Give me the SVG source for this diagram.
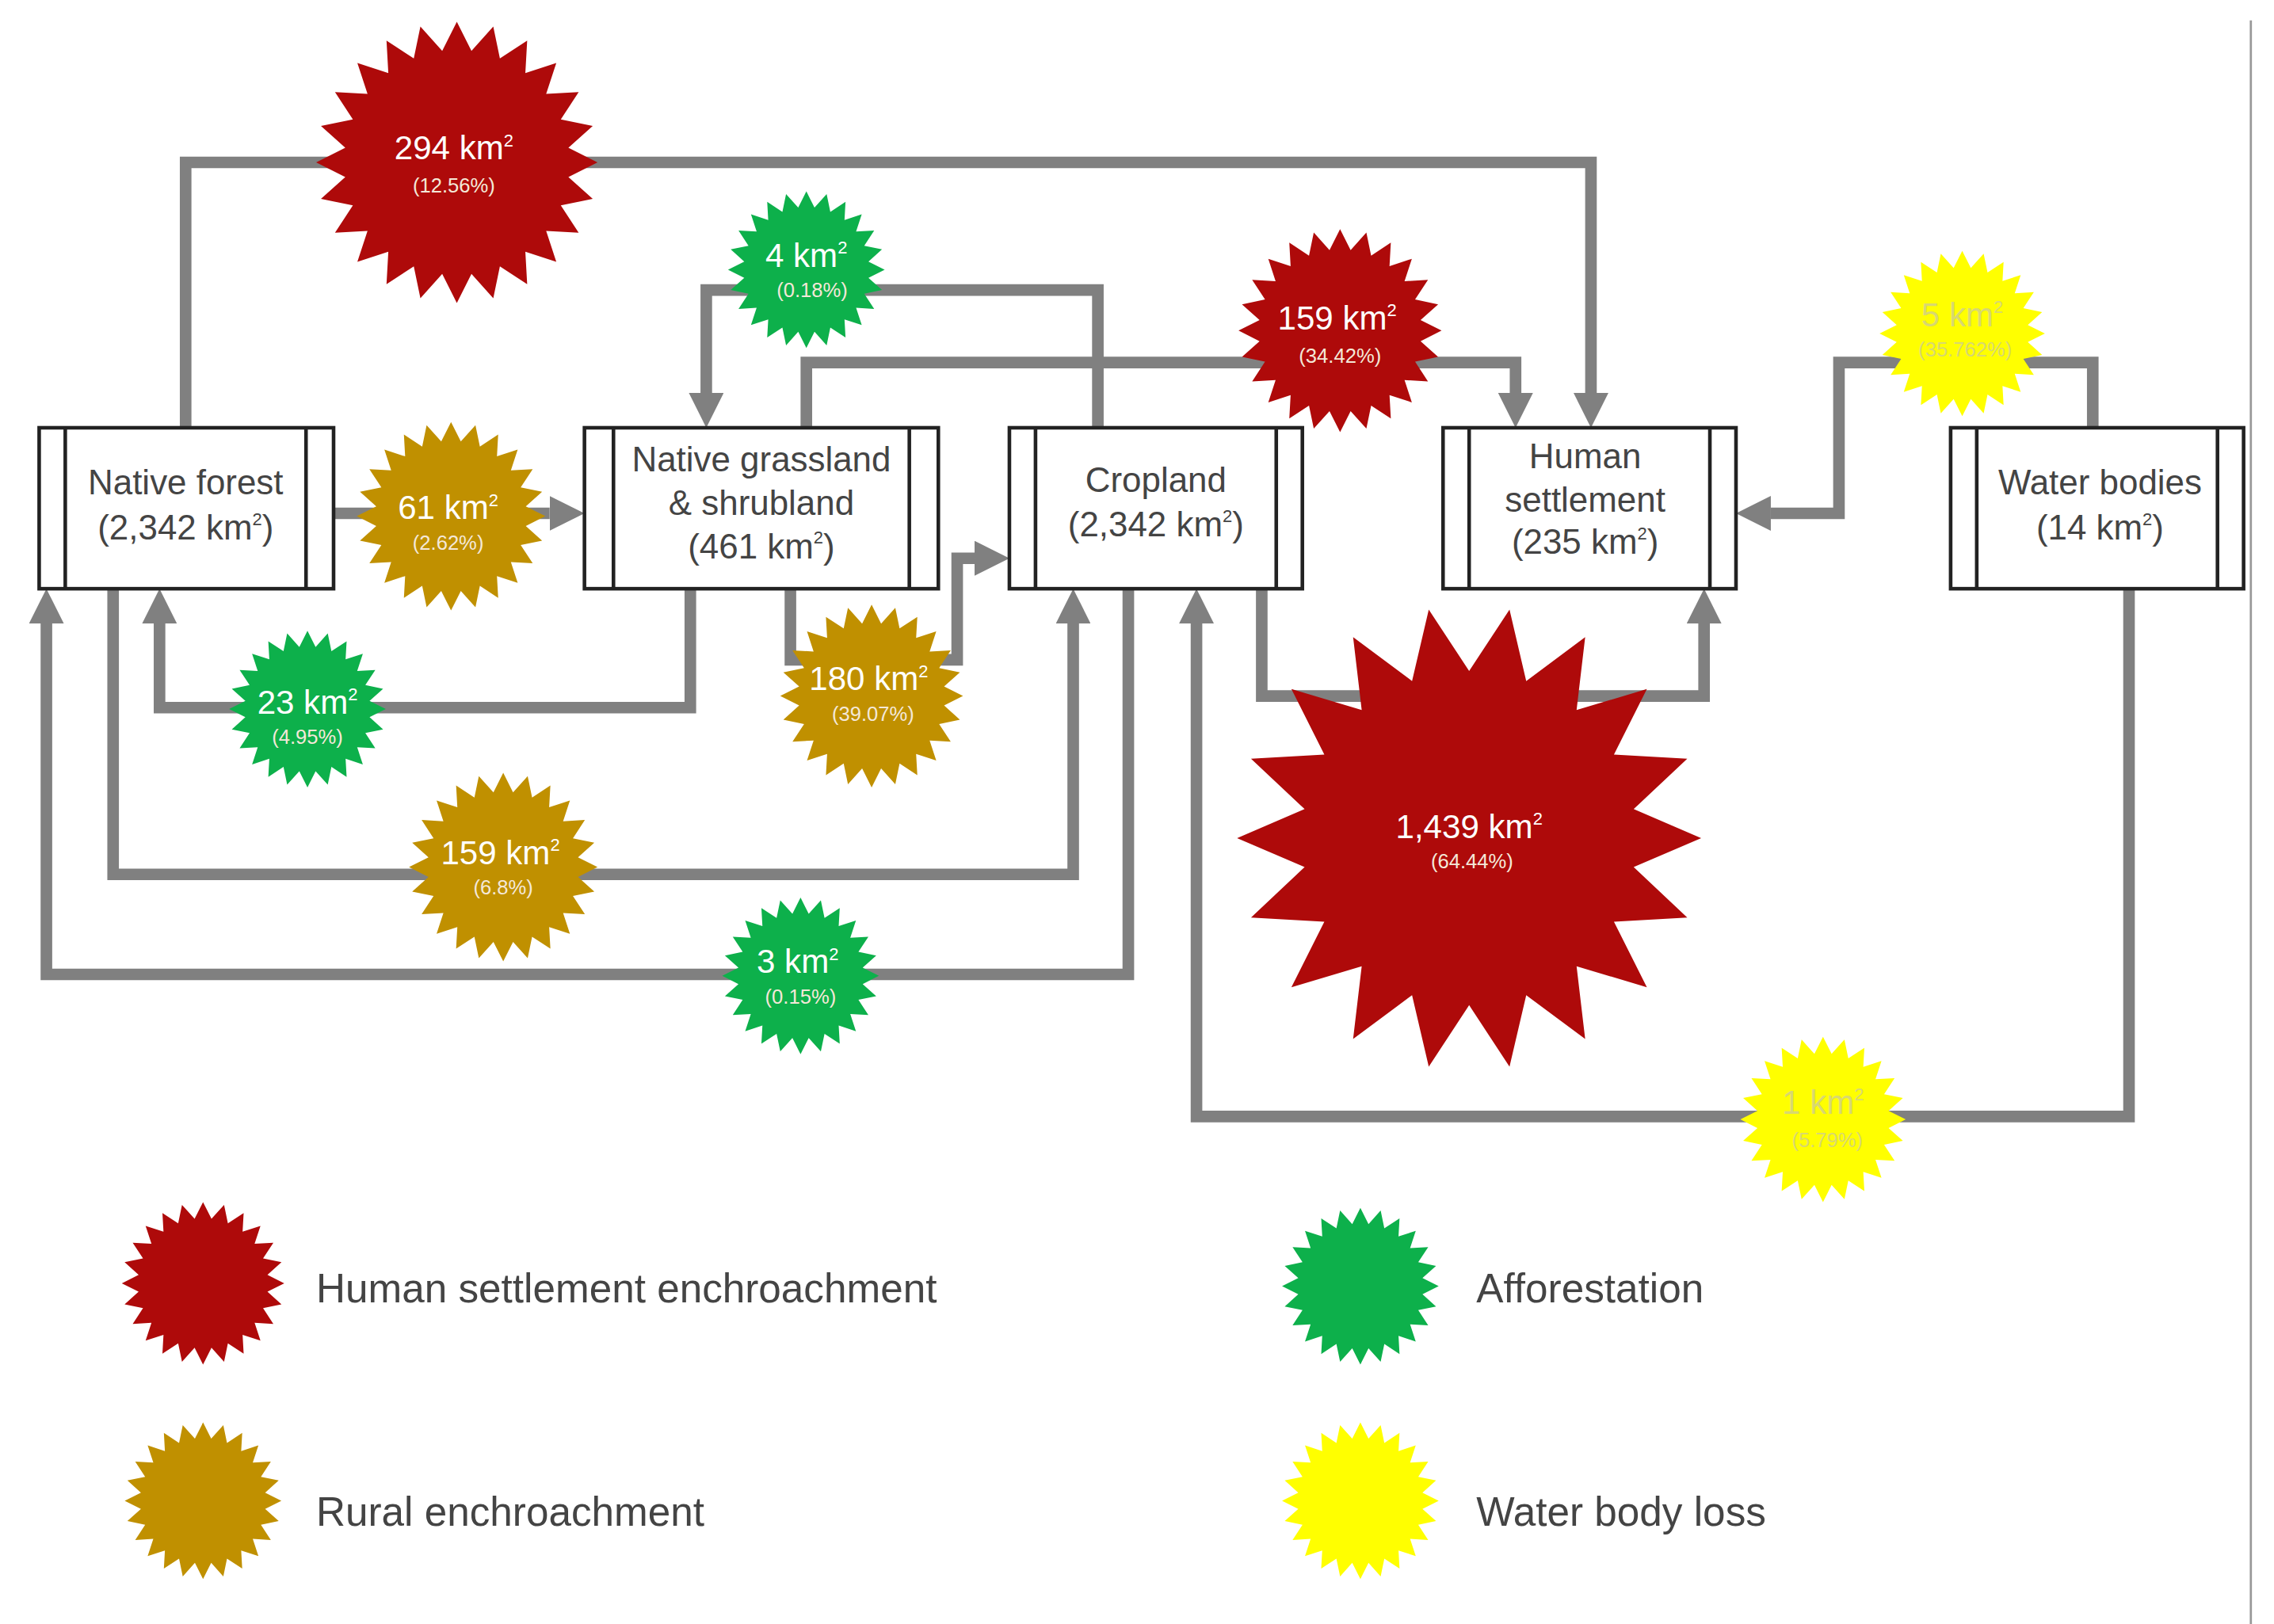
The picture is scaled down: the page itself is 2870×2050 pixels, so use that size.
<svg xmlns="http://www.w3.org/2000/svg" xmlns:xlink="http://www.w3.org/1999/xlink" width="2870" height="2050" viewBox="0 0 2870 2050">
<style>
.box{fill:#fff;stroke:#222;stroke-width:2.5}
.in{stroke:#222;stroke-width:2.5}
.bt{font-family:"Liberation Sans",Arial,sans-serif;font-size:24px;fill:#444;text-anchor:middle}
.con{fill:none;stroke:#808080;stroke-width:8}
.red{fill:#ae0a0a}.gold{fill:#c09000}.green{fill:#0db04b}.yel{fill:#ffff00}
.v{font-family:"Liberation Sans",Arial,sans-serif;font-size:23px;fill:#fff;text-anchor:middle}
.p{font-family:"Liberation Sans",Arial,sans-serif;font-size:14px;fill:#f4e8d8;text-anchor:middle}
.vy{fill:#d8d870}
.lg{font-family:"Liberation Sans",Arial,sans-serif;font-size:28px;fill:#444}
</style>
<defs>
<marker id="ah" markerUnits="strokeWidth" markerWidth="3" markerHeight="3" refX="0" refY="5" viewBox="0 0 10 10" orient="auto"><path d="M0,0 L10,5 L0,10 z" fill="#808080"/></marker>
<path id="s24" d="M100,0 79.3,10.4 96.6,25.9 73.9,30.6 86.6,50 63.5,48.7 70.7,70.7 48.7,63.5 50,86.6 30.6,73.9 25.9,96.6 10.4,79.3 0,100 -10.4,79.3 -25.9,96.6 -30.6,73.9 -50,86.6 -48.7,63.5 -70.7,70.7 -63.5,48.7 -86.6,50 -73.9,30.6 -96.6,25.9 -79.3,10.4 -100,0 -79.3,-10.4 -96.6,-25.9 -73.9,-30.6 -86.6,-50 -63.5,-48.7 -70.7,-70.7 -48.7,-63.5 -50,-86.6 -30.6,-73.9 -25.9,-96.6 -10.4,-79.3 0,-100 10.4,-79.3 25.9,-96.6 30.6,-73.9 50,-86.6 48.7,-63.5 70.7,-70.7 63.5,-48.7 86.6,-50 73.9,-30.6 96.6,-25.9 79.3,-10.4Z"/>
<path id="s18" d="M100,0 70.9,12.5 94,34.2 62.4,36 76.6,64.3 46.3,55.2 50,86.6 24.6,67.7 17.4,98.5 0,72 -17.4,98.5 -24.6,67.7 -50,86.6 -46.3,55.2 -76.6,64.3 -62.4,36 -94,34.2 -70.9,12.5 -100,0 -70.9,-12.5 -94,-34.2 -62.4,-36 -76.6,-64.3 -46.3,-55.2 -50,-86.6 -24.6,-67.7 -17.4,-98.5 0,-72 17.4,-98.5 24.6,-67.7 50,-86.6 46.3,-55.2 76.6,-64.3 62.4,-36 94,-34.2 70.9,-12.5Z"/>
</defs>
<rect width="2870" height="2050" fill="#fff"/>
<g transform="scale(1.8304)">
<line x1="1552" y1="14" x2="1552" y2="1120" stroke="#999" stroke-width="1.5"/>
<g id="connectors">
<path class="con" marker-end="url(#ah)" d="M128,295 V112 H1097 V271"/>
<path class="con" marker-end="url(#ah)" d="M230,354 H379"/>
<path class="con" marker-end="url(#ah)" d="M476,406 V488 H110 V430"/>
<path class="con" marker-end="url(#ah)" d="M757,295 V200 H487 V271"/>
<path class="con" marker-end="url(#ah)" d="M556,295 V250 H1045 V271"/>
<path class="con" marker-end="url(#ah)" d="M545,406 V455 H660 V385 H672"/>
<path class="con" marker-end="url(#ah)" d="M78,406 V603 H740 V430"/>
<path class="con" marker-end="url(#ah)" d="M778,406 V672 H32 V430"/>
<path class="con" marker-end="url(#ah)" d="M870,406 V480 H1175 V430"/>
<path class="con" marker-end="url(#ah)" d="M1443,295 V250 H1268 V354 H1221"/>
<path class="con" marker-end="url(#ah)" d="M1468,406 V770 H825 V430"/>
</g>
<g id="forest"><rect class="box" x="27" y="295" width="203" height="111"/><line class="in" x1="45" y1="295" x2="45" y2="406"/><line class="in" x1="211" y1="295" x2="211" y2="406"/>
<text class="bt" x="128" y="341">Native forest</text><text class="bt" x="128" y="372">(2,342 km<tspan font-size="12" dy="-10">2</tspan><tspan dy="10">)</tspan></text></g>
<g id="grassland"><rect class="box" x="403" y="295" width="244" height="111"/><line class="in" x1="423" y1="295" x2="423" y2="406"/><line class="in" x1="627" y1="295" x2="627" y2="406"/>
<text class="bt" x="525" y="325">Native grassland</text><text class="bt" x="525" y="355">&amp; shrubland</text><text class="bt" x="525" y="385">(461 km<tspan font-size="12" dy="-10">2</tspan><tspan dy="10">)</tspan></text></g>
<g id="cropland"><rect class="box" x="696" y="295" width="202" height="111"/><line class="in" x1="714" y1="295" x2="714" y2="406"/><line class="in" x1="880" y1="295" x2="880" y2="406"/>
<text class="bt" x="797" y="339">Cropland</text><text class="bt" x="797" y="370">(2,342 km<tspan font-size="12" dy="-10">2</tspan><tspan dy="10">)</tspan></text></g>
<g id="settlement"><rect class="box" x="995" y="295" width="202" height="111"/><line class="in" x1="1013" y1="295" x2="1013" y2="406"/><line class="in" x1="1179" y1="295" x2="1179" y2="406"/>
<text class="bt" x="1093" y="323">Human</text><text class="bt" x="1093" y="353">settlement</text><text class="bt" x="1093" y="382">(235 km<tspan font-size="12" dy="-10">2</tspan><tspan dy="10">)</tspan></text></g>
<g id="water"><rect class="box" x="1345" y="295" width="202" height="111"/><line class="in" x1="1363" y1="295" x2="1363" y2="406"/><line class="in" x1="1529" y1="295" x2="1529" y2="406"/>
<text class="bt" x="1448" y="341">Water bodies</text><text class="bt" x="1448" y="372">(14 km<tspan font-size="12" dy="-10">2</tspan><tspan dy="10">)</tspan></text></g>

<g id="s294"><use href="#s24" class="red" transform="translate(315,112) scale(0.97)"/><text class="v" x="313" y="110">294 km<tspan font-size="12" dy="-9">2</tspan></text><text class="p" x="313" y="133">(12.56%)</text></g>
<g id="s61"><use href="#s24" class="gold" transform="translate(311,356) scale(0.65)"/><text class="v" x="309" y="358">61 km<tspan font-size="12" dy="-9">2</tspan></text><text class="p" x="309" y="379">(2.62%)</text></g>
<g id="s23"><use href="#s24" class="green" transform="translate(212,489) scale(0.54)"/><text class="v" x="212" y="492">23 km<tspan font-size="12" dy="-9">2</tspan></text><text class="p" x="212" y="513">(4.95%)</text></g>
<g id="s4"><use href="#s24" class="green" transform="translate(556,186) scale(0.54)"/><text class="v" x="556" y="184">4 km<tspan font-size="12" dy="-9">2</tspan></text><text class="p" x="560" y="205">(0.18%)</text></g>
<g id="s159r"><use href="#s24" class="red" transform="translate(924,228) scale(0.7)"/><text class="v" x="922" y="227">159 km<tspan font-size="12" dy="-9">2</tspan></text><text class="p" x="924" y="250">(34.42%)</text></g>
<g id="s180"><use href="#s24" class="gold" transform="translate(601,480) scale(0.63)"/><text class="v" x="599" y="476">180 km<tspan font-size="12" dy="-9">2</tspan></text><text class="p" x="602" y="497">(39.07%)</text></g>
<g id="s159g"><use href="#s24" class="gold" transform="translate(347,598) scale(0.65)"/><text class="v" x="345" y="596">159 km<tspan font-size="12" dy="-9">2</tspan></text><text class="p" x="347" y="617">(6.8%)</text></g>
<g id="s3"><use href="#s24" class="green" transform="translate(552,673) scale(0.54)"/><text class="v" x="550" y="671">3 km<tspan font-size="12" dy="-9">2</tspan></text><text class="p" x="552" y="692">(0.15%)</text></g>
<g id="s1439"><use href="#s18" class="red" transform="translate(1013,578) scale(1.6)"/><text class="v" x="1013" y="578">1,439 km<tspan font-size="12" dy="-9">2</tspan></text><text class="p" x="1015" y="599">(64.44%)</text></g>
<g id="s5"><use href="#s24" class="yel" transform="translate(1353,230) scale(0.57)"/><text class="v vy" x="1353" y="225">5 km<tspan font-size="12" dy="-9">2</tspan></text><text class="p vy" x="1355" y="246">(35.762%)</text></g>
<g id="s1"><use href="#s24" class="yel" transform="translate(1257,772) scale(0.57)"/><text class="v vy" x="1257" y="768">1 km<tspan font-size="12" dy="-9">2</tspan></text><text class="p vy" x="1260" y="791">(5.79%)</text></g>

<g id="legend">
<use href="#s24" class="red" transform="translate(140,885) scale(0.56)"/><text class="lg" x="218" y="898">Human settlement enchroachment</text>
<use href="#s24" class="gold" transform="translate(140,1035) scale(0.54)"/><text class="lg" x="218" y="1052">Rural enchroachment</text>
<use href="#s24" class="green" transform="translate(938,887) scale(0.54)"/><text class="lg" x="1018" y="898">Afforestation</text>
<use href="#s24" class="yel" transform="translate(938,1035) scale(0.54)"/><text class="lg" x="1018" y="1052">Water body loss</text>
</g>
</g>
</svg>
